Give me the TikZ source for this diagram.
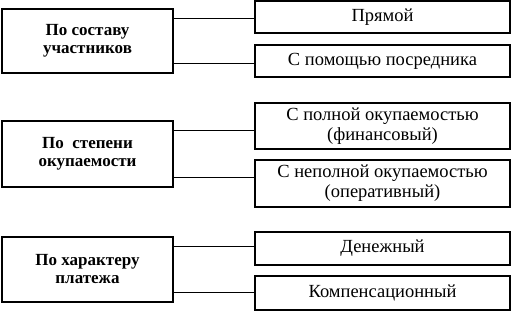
\documentclass[tikz,border=0pt]{standalone}
\usepackage{fontspec}
\setmainfont{Liberation Serif}
\usetikzlibrary{positioning}

\begin{document}
\begin{tikzpicture}[x=1pt,y=-1pt,
  kind/.style={draw,line width=1.3pt,minimum width=171pt,align=center,font=\fontsize{17}{18}\selectfont\bfseries,inner sep=0pt},
  sort/.style={draw,line width=1.3pt,minimum width=255pt,align=center,font=\fontsize{18.5}{20}\selectfont,inner sep=0pt},
  link/.style={line width=1.3pt}]
  \useasboundingbox (0,0) rectangle (515,311);
  % left column
  \node[kind,minimum height=64pt] (l1) at (87.5,41) {По составу\\участников};
  \node[kind,minimum height=66pt] (l2) at (87.5,154) {По\ \ степени\\окупаемости};
  \node[kind,minimum height=65pt] (l3) at (87.5,269.5) {По характеру\\платежа};
  % right column
  \node[sort,minimum height=32pt] (r1) at (382.5,17) {Прямой};
  \node[sort,minimum height=32pt] (r2) at (382.5,61) {С помощью посредника};
  \node[sort,minimum height=46pt] (r3) at (382.5,126) {С полной окупаемостью\\(финансовый)};
  \node[sort,minimum height=47pt] (r4) at (382.5,183.5) {С неполной окупаемостью\\(оперативный)};
  \node[sort,minimum height=33pt] (r5) at (382.5,248.5) {Денежный};
  \node[sort,minimum height=34pt] (r6) at (382.5,293) {Компенсационный};
  % connectors
  \draw[link] ([yshift=-10pt]l1.north east) -- ([yshift=-10pt]l1.north east -| r1.west);
  \draw[link] ([yshift=10pt]l1.south east) -- ([yshift=10pt]l1.south east -| r2.west);
  \draw[link] ([yshift=-10pt]l2.north east) -- ([yshift=-10pt]l2.north east -| r3.west);
  \draw[link] ([yshift=10pt]l2.south east) -- ([yshift=10pt]l2.south east -| r4.west);
  \draw[link] ([yshift=-10pt]l3.north east) -- ([yshift=-10pt]l3.north east -| r5.west);
  \draw[link] ([yshift=10pt]l3.south east) -- ([yshift=10pt]l3.south east -| r6.west);
\end{tikzpicture}
\end{document}
